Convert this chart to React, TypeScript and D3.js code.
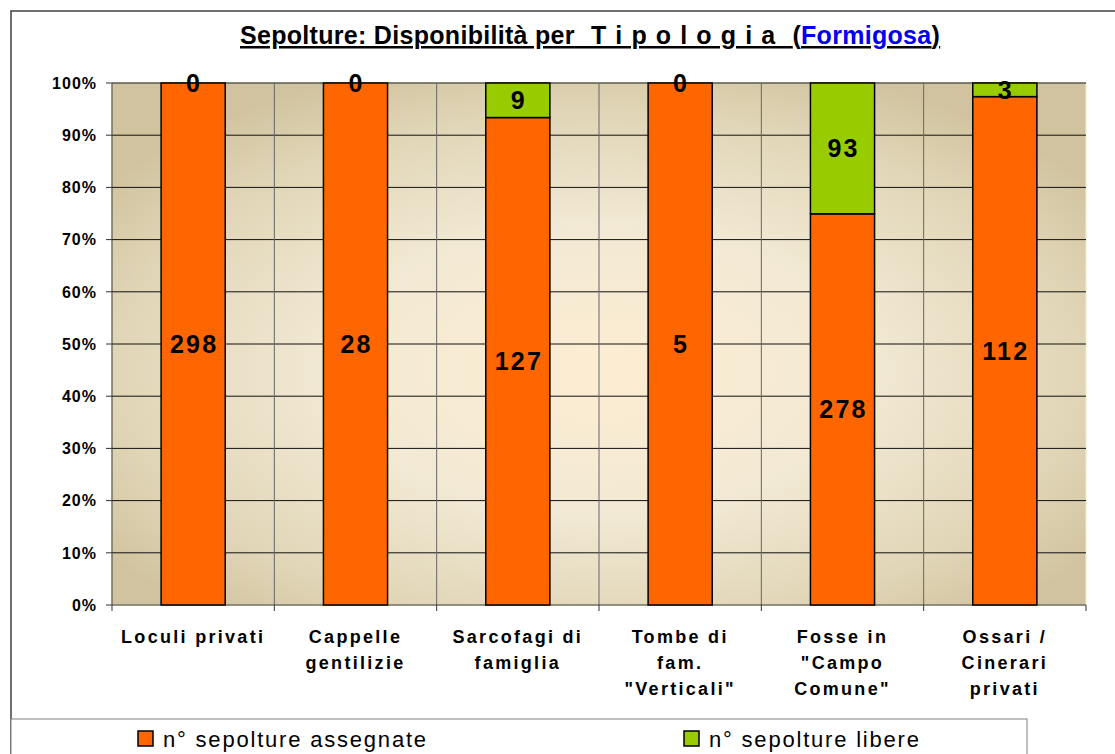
import * as d3 from "d3";

// categories and stacked values
const categories = [
  ["Loculi privati"],
  ["Cappelle", "gentilizie"],
  ["Sarcofagi di", "famiglia"],
  ["Tombe di", "fam.", "\"Verticali\""],
  ["Fosse in", "\"Campo", "Comune\""],
  ["Ossari /", "Cinerari", "privati"],
];
const assegnate = [298, 28, 127, 5, 278, 112];
const libere = [0, 0, 9, 0, 93, 3];
const yTicks = [0, 0.1, 0.2, 0.3, 0.4, 0.5, 0.6, 0.7, 0.8, 0.9, 1];
const seriesNames = ["n° sepolture assegnate", "n° sepolture libere"];
const colors = ["#ff6600", "#99cc00"];

const W = 1115;
const H = 754;
const plot = { left: 112, right: 1086, top: 83, bottom: 605 };
const FONT = "'Liberation Sans', Arial, sans-serif";

export default function App() {
  const keys = categories.map((_, i) => i);
  const x = d3
    .scaleBand<number>()
    .domain(keys)
    .range([plot.left, plot.right])
    .paddingInner(0.605)
    .paddingOuter(0.3025);
  const band = d3.scaleBand<number>().domain(keys).range([plot.left, plot.right]);
  const y = d3.scaleLinear().domain([0, 1]).range([plot.bottom, plot.top]);

  const rows = keys.map((i) => ({ i, a: assegnate[i], l: libere[i] }));
  const stack = d3.stack<any>().keys(["a", "l"]).offset(d3.stackOffsetExpand);
  const layers = stack(rows);
  const pct = d3.format(".0%");

  return (
    <svg
      width={W}
      height={H}
      style={{ position: "absolute", left: 0, top: 0, background: "#fff" }}
    >
      <defs>
        <radialGradient id="bg" cx="0.5" cy="0.55" r="0.62">
          <stop offset="0" stopColor="#fdedd2" />
          <stop offset="0.45" stopColor="#f2e9d4" />
          <stop offset="0.8" stopColor="#e0d5b6" />
          <stop offset="1" stopColor="#d1c39f" />
        </radialGradient>
      </defs>

      {/* outer frame */}
      <rect x={11} y={11} width={1130} height={780} fill="#fff" stroke="#404040" strokeWidth={1.5} />

      {/* title */}
      <text
        x={240}
        y={44}
        fontFamily={FONT}
        fontWeight="bold"
        fontSize={25}
        letterSpacing={0.3}
        textDecoration="underline"
        style={{ whiteSpace: "pre" }}
      >
        {"Sepolture: Disponibilità per"}
        <tspan letterSpacing={1.1}>{"  T i p o l o g i a  "}</tspan>
        {"("}
        <tspan fill="#0000ee">Formigosa</tspan>
        {")"}
      </text>

      {/* plot background */}
      <rect
        x={plot.left}
        y={plot.top}
        width={plot.right - plot.left}
        height={plot.bottom - plot.top}
        fill="url(#bg)"
        stroke="#f4efc0"
      />

      {/* horizontal gridlines */}
      {yTicks.slice(1).map((t) => (
        <line key={t} x1={plot.left} x2={plot.right} y1={y(t)} y2={y(t)} stroke="#111" strokeWidth={1} />
      ))}
      {/* vertical gridlines */}
      {keys.slice(1).map((i) => (
        <line key={i} x1={band(i)!} x2={band(i)!} y1={plot.top} y2={plot.bottom} stroke="#666" strokeWidth={1} />
      ))}

      {/* axes */}
      <line x1={plot.left} x2={plot.left} y1={plot.top} y2={plot.bottom} stroke="#333" />
      <line x1={plot.left} x2={plot.right} y1={plot.bottom} y2={plot.bottom} stroke="#333" />
      {yTicks.map((t) => (
        <g key={t}>
          <line x1={plot.left - 6} x2={plot.left} y1={y(t)} y2={y(t)} stroke="#333" />
          <text
            x={97}
            y={y(t)}
            dy="0.36em"
            textAnchor="end"
            fontFamily={FONT}
            fontWeight="bold"
            fontSize={16}
            letterSpacing={1}
          >
            {pct(t)}
          </text>
        </g>
      ))}
      {[...keys, keys.length].map((i) => {
        const bx = i < keys.length ? band(i)! : plot.right;
        return <line key={i} x1={bx} x2={bx} y1={plot.bottom} y2={plot.bottom + 6} stroke="#333" />;
      })}

      {/* bars */}
      {layers.map((layer, li) =>
        layer.map((d, i) => (
          <rect
            key={`${li}-${i}`}
            x={x(i)!}
            y={y(d[1])}
            width={x.bandwidth()}
            height={y(d[0]) - y(d[1])}
            fill={colors[li]}
            stroke="#000"
            strokeWidth={1.5}
          />
        ))
      )}

      {/* value labels */}
      {layers.map((layer, li) =>
        layer.map((d, i) => (
          <text
            key={`v${li}-${i}`}
            x={x(i)! + x.bandwidth() / 2 + 1}
            y={y((d[0] + d[1]) / 2)}
            dy="0.36em"
            textAnchor="middle"
            fontFamily={FONT}
            fontWeight="bold"
            fontSize={25}
            letterSpacing={2.2}
          >
            {li === 0 ? assegnate[i] : libere[i]}
          </text>
        ))
      )}

      {/* category labels */}
      {categories.map((lines, i) => (
        <text
          key={i}
          x={band(i)! + band.bandwidth() / 2}
          textAnchor="middle"
          fontFamily={FONT}
          fontWeight="bold"
          fontSize={18}
          letterSpacing={2.3}
        >
          {lines.map((s, k) => (
            <tspan key={k} x={band(i)! + band.bandwidth() / 2} y={643 + k * 26}>
              {s}
            </tspan>
          ))}
        </text>
      ))}

      {/* legend */}
      <rect x={11} y={719} width={1016} height={80} fill="#fff" stroke="#808080" />
      {seriesNames.map((s, i) => {
        const lx = i === 0 ? 138 : 684;
        return (
          <g key={s}>
            <rect x={lx} y={731} width={15} height={15} fill={colors[i]} stroke="#000" strokeWidth={1.5} />
            <text
              x={lx + 25}
              y={747}
              fontFamily={FONT}
              fontSize={22}
              letterSpacing={1.8}
            >
              {s}
            </text>
          </g>
        );
      })}
    </svg>
  );
}
